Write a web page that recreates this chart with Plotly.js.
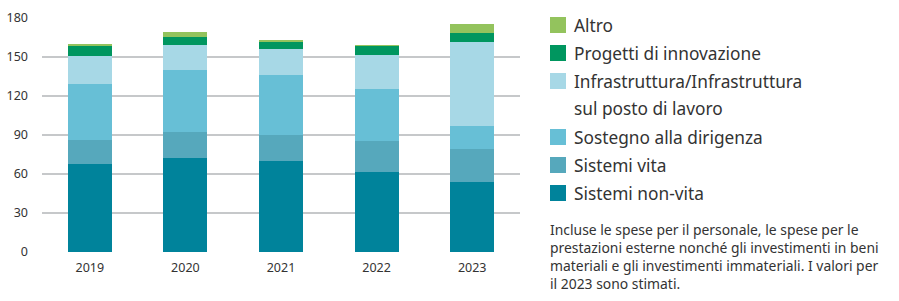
<!DOCTYPE html>
<html>
<head>
<meta charset="utf-8">
<script src="https://cdn.plot.ly/plotly-3.0.1.min.js"></script>
<style>html,body{margin:0;padding:0;background:#fff;}#chart{width:899px;height:301px;}</style>
</head>
<body>
<div id="chart"></div>
<script>
var years = ["2019", "2020", "2021", "2022", "2023"];
var sistemiNonVita = [67.7, 72.3, 70.0, 61.5, 53.8];
var sistemiVita = [18.5, 20.0, 20.0, 23.9, 25.4];
var sostegnoDirigenza = [43.0, 47.7, 46.2, 40.0, 17.7];
var infrastruttura = [21.6, 19.2, 20.0, 26.1, 64.6];
var progettiInnovazione = [7.7, 6.2, 5.3, 7.0, 7.0];
var altro = [1.7, 3.8, 1.6, 0.7, 6.9];

var seriesNames = ["Sistemi non-vita", "Sistemi vita", "Sostegno alla dirigenza",
  "Infrastruttura/Infrastruttura<br>sul posto di lavoro", "Progetti di innovazione", "Altro"];
var seriesColors = ["#00839b", "#56a8bc", "#67bfd6", "#a7d8e6", "#00965f", "#93c35d"];
var seriesValues = [sistemiNonVita, sistemiVita, sostegnoDirigenza, infrastruttura, progettiInnovazione, altro];
var yTicks = [0, 30, 60, 90, 120, 150, 180];
var footnote = "Incluse le spese per il personale, le spese per le<br>prestazioni esterne nonché gli investimenti in beni<br>materiali e gli investimenti immateriali. I valori per<br>il 2023 sono stimati.";

var FONT = "Noto Sans, Open Sans, sans-serif";

var traces = seriesValues.map(function (vals, i) {
  return {
    type: "bar", x: years, y: vals, name: seriesNames[i],
    marker: {color: seriesColors[i], line: {width: 0}},
    showlegend: false, hoverinfo: "skip"
  };
});

// plot area in pixels
var L = 42, R = 520, T = 18, B = 252;
function px(x) { return (x - L) / (R - L); }
function py(y) { return (B - y) / (B - T); }

var shapes = [], annotations = [];
// custom legend (top = last series)
var rowY = 25, rowStep = 28;
for (var k = seriesNames.length - 1; k >= 0; k--) {
  var lines = seriesNames[k].split("<br>");
  shapes.push({type: "rect", xref: "paper", yref: "paper",
    x0: px(550), x1: px(566), y0: py(rowY - 8), y1: py(rowY + 8),
    fillcolor: seriesColors[k], line: {width: 0}});
  lines.forEach(function (ln, j) {
    annotations.push({xref: "paper", yref: "paper", x: px(572), y: py(rowY + j * rowStep),
      xanchor: "left", yanchor: "middle", showarrow: false, text: ln,
      font: {family: FONT, size: 17.3, color: "#333333"}});
  });
  rowY += rowStep * lines.length;
}
annotations.push({xref: "paper", yref: "paper", x: px(548), y: py(218),
  xanchor: "left", yanchor: "top", align: "left", showarrow: false, text: footnote,
  font: {family: FONT, size: 13.9, color: "#333333"}});

var layout = {
  width: 899, height: 301,
  margin: {l: L, r: 899 - R, t: T, b: 301 - B, pad: 0},
  paper_bgcolor: "#ffffff", plot_bgcolor: "#ffffff",
  barmode: "stack", bargap: 0.54,
  font: {family: FONT, size: 12.5, color: "#333333"},
  xaxis: {type: "category", showgrid: false, zeroline: false, showline: false, ticks: "",
    ticklabelstandoff: 6,
    tickfont: {family: FONT, size: 12.5, color: "#333333"}},
  yaxis: {range: [0, 180], tickvals: yTicks, ticktext: yTicks.map(String),
    showgrid: true, gridcolor: "#c6c8ca", gridwidth: 2, zeroline: false, showline: false, ticks: "",
    ticklabelstandoff: 13,
    tickfont: {family: FONT, size: 12.5, color: "#333333"}},
  shapes: shapes, annotations: annotations
};

Plotly.newPlot("chart", traces, layout, {displayModeBar: false, staticPlot: true});
</script>
</body>
</html>
